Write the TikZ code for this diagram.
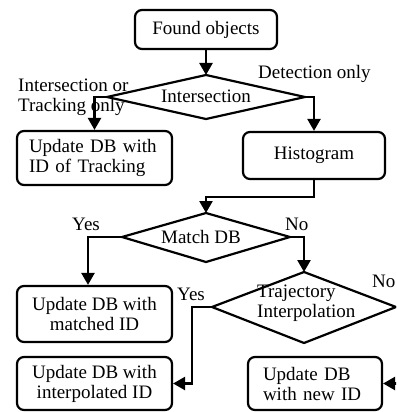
\documentclass[tikz,border=0pt]{standalone}
\usepackage{fontspec}
\setmainfont{Liberation Serif}
\usetikzlibrary{arrows.meta,calc}
\begin{document}
\begin{tikzpicture}[x=1pt,y=-1pt,
  box/.style={draw,line width=2.2pt,rounded corners=7pt,inner sep=0pt,align=center,font=\fontsize{19}{20}\selectfont},
  lbl/.style={inner sep=0pt,font=\fontsize{19}{20}\selectfont},
  dia/.style={draw,line width=2.2pt,line join=miter},
  arr/.style={line width=2.4pt,-{Triangle[length=12pt,width=13pt]}},
  ]
\useasboundingbox (0,0) rectangle (396,412);
\clip (0,0) rectangle (396,412);

% boxes
\node[box,minimum width=142pt,minimum height=39pt] (found) at (206,29.5) {Found objects};
\node[box,minimum width=155pt,minimum height=54pt,text width=131pt,align=left] (track) at (94.5,158) {Update DB with\\ID of Tracking};
\node[box,minimum width=142pt,minimum height=47pt] (hist) at (314,155.5) {Histogram};
\node[box,minimum width=155pt,minimum height=56pt] (match) at (94.5,314) {Update DB with\\matched ID};
\node[box,minimum width=155pt,minimum height=53pt] (interp) at (94.5,383.5) {Update DB with\\interpolated ID};
\node[box,minimum width=134pt,minimum height=53pt,text width=104pt,align=left] (newid) at (315,383.5) {Update DB\\with new ID};

% diamond 1
\coordinate (d1t) at (206,75);
\coordinate (d1r) at (305,97);
\coordinate (d1b) at (206,119);
\coordinate (d1l) at (107,97);
\draw[dia] (d1t) -- (d1r) -- (d1b) -- (d1l) -- cycle;
\node[lbl,anchor=base] (t1) at (206,102) {Intersection};

% diamond 2
\coordinate (d2t) at (206,213);
\coordinate (d2r) at (290,237);
\coordinate (d2b) at (206,262);
\coordinate (d2l) at (122,237);
\draw[dia] (d2t) -- (d2r) -- (d2b) -- (d2l) -- cycle;
\node[lbl,anchor=base] (t2) at (201,243) {Match DB};

% diamond 3
\coordinate (d3t) at (304,272);
\coordinate (d3r) at (396,307);
\coordinate (d3b) at (304,343);
\coordinate (d3l) at (212,307);
\draw[dia] (d3t) -- (d3r) -- (d3b) -- (d3l) -- cycle;
\node[lbl,anchor=north west,align=left] (t3) at (257,285) {Trajectory\\Interpolation};

% labels
\node[lbl,anchor=north west,align=left] (l1) at (18,79) {Intersection or\\Tracking only};
\node[lbl,anchor=base west] (l2) at (258,78) {Detection only};
\node[lbl,anchor=base west] (l3) at (72,230) {Yes};
\node[lbl,anchor=base west] (l4) at (285,230) {No};
\node[lbl,anchor=base west] (l5) at (177,300) {Yes};
\node[lbl,anchor=base west] (l6) at (372,287) {No};

% connectors
\draw[arr] (found.south) -- (d1t);
\draw[arr] (d1l) -| (track.north);
\draw[arr] (d1r) -| (hist.north);
\coordinate (k1) at (0,197);
\draw[arr] (hist.south) -- (hist.south |- k1) -| (d2t);
\draw[arr] (d2l) -| ([xshift=-6.5pt]match.north);
\draw[arr] (d2r) -| (d3t);
\coordinate (k3) at (192,0);
\draw[arr] (d3l) -- (d3l -| k3) |- (interp.east);
\coordinate (k4) at (403,0);
\draw[arr] (d3r) -- (d3r -| k4) |- (newid.east);
\end{tikzpicture}
\end{document}
